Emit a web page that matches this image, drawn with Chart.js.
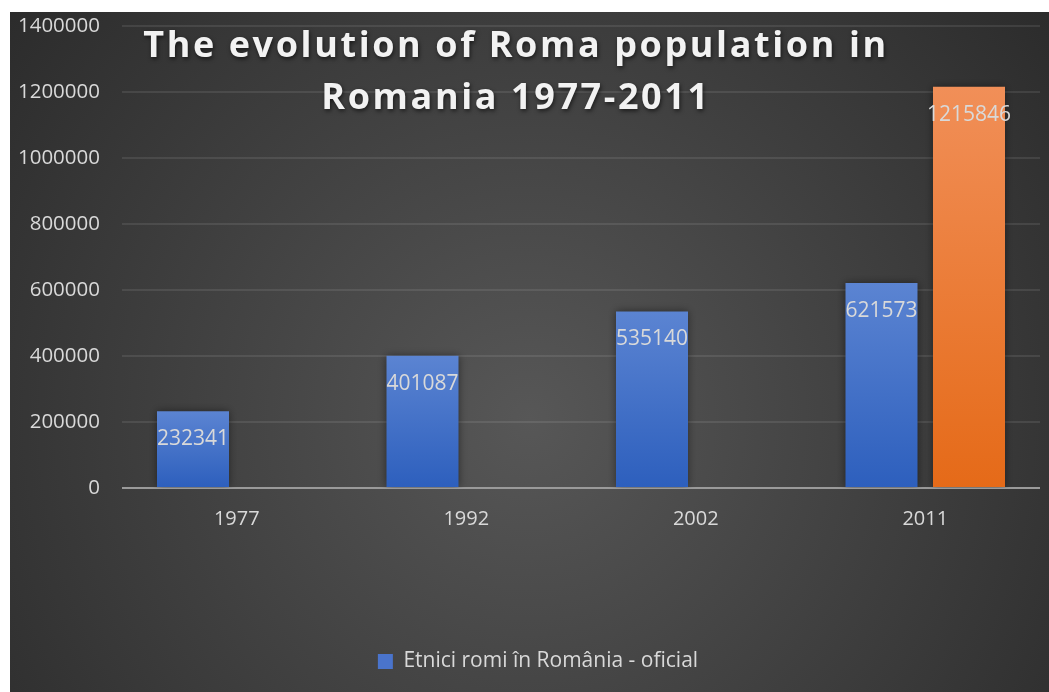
<!DOCTYPE html>
<html>
<head>
<meta charset="utf-8">
<script src="https://cdn.jsdelivr.net/npm/chart.js@4.4.1/dist/chart.umd.min.js"></script>
<style>
  html, body { margin: 0; padding: 0; background: #ffffff; }
  #wrap { position: absolute; left: 10px; top: 12px; width: 1039px; height: 680px; }
</style>
</head>
<body>
<div id="wrap"><canvas id="chart"></canvas></div>
<script>
// Census categories and values
const categories = ['1977', '1992', '2002', '2011'];
const officialValues = [232341, 401087, 535140, 621573];
const estimateValues = [null, null, null, 1215846];
const officialLabel = 'Etnici romi în România - oficial';
const titleLines = ['The evolution of Roma population in', 'Romania 1977-2011'];
const yMin = 0;
const yMax = 1400000;
const yStep = 200000;

const FONT = '"Open Sans", "Liberation Sans", sans-serif';
const TEXT_COLOR = '#d9d9d9';

// Vertical gradient spanning each bar from its top to the baseline
function barGradient(ctx, top, bottom) {
  const chart = ctx.chart;
  const yScale = chart.scales.y;
  const v = ctx.raw;
  if (!yScale || v == null || !chart.chartArea) return top;
  const y0 = yScale.getPixelForValue(v);
  const y1 = yScale.getPixelForValue(0);
  const g = chart.ctx.createLinearGradient(0, y0, 0, y1);
  g.addColorStop(0, top);
  g.addColorStop(1, bottom);
  return g;
}

// Dark radial backdrop
const backdrop = {
  id: 'backdrop',
  beforeDraw(chart) {
    const { ctx, width, height } = chart;
    ctx.save();
    const cx = width * 0.5, cy = height * 0.6;
    const g = ctx.createRadialGradient(cx, cy, 0, cx, cy, width * 0.72);
    g.addColorStop(0, '#575757');
    g.addColorStop(1, '#262626');
    ctx.fillStyle = g;
    ctx.fillRect(0, 0, width, height);
    ctx.restore();
  }
};

// Nudge the legend so it centres under the plot rather than the canvas
const legendNudge = {
  id: 'legendNudge',
  afterLayout(chart) {
    if (chart.legend) {
      chart.legend.left += 13;
      chart.legend.right += 13;
    }
  }
};

// Soft shadow behind the bars
const barShadow = {
  id: 'barShadow',
  beforeDatasetsDraw(chart) {
    const ctx = chart.ctx;
    ctx.save();
    ctx.shadowColor = 'rgba(0,0,0,0.45)';
    ctx.shadowBlur = 8;
  },
  afterDatasetsDraw(chart) {
    chart.ctx.restore();
  }
};

// Value labels inside the top of each bar, and the overlaid title
const overlayText = {
  id: 'overlayText',
  afterDraw(chart) {
    const ctx = chart.ctx;
    ctx.save();
    ctx.font = '21px ' + FONT;
    ctx.fillStyle = TEXT_COLOR;
    ctx.textAlign = 'center';
    ctx.textBaseline = 'middle';
    chart.data.datasets.forEach((ds, di) => {
      const meta = chart.getDatasetMeta(di);
      meta.data.forEach((bar, i) => {
        const v = ds.data[i];
        if (v == null) return;
        ctx.fillText(String(v), bar.x, bar.y + 28);
      });
    });
    ctx.restore();

    ctx.save();
    ctx.font = 'bold 36px ' + FONT;
    ctx.letterSpacing = '2.6px';
    ctx.fillStyle = '#f2f2f2';
    ctx.textAlign = 'center';
    ctx.textBaseline = 'alphabetic';
    ctx.shadowColor = 'rgba(0,0,0,0.6)';
    ctx.shadowBlur = 4;
    ctx.shadowOffsetX = 1;
    ctx.shadowOffsetY = 2;
    const cx = 506;
    ctx.fillText(titleLines[0], cx, 45);
    ctx.fillText(titleLines[1], cx, 97);
    ctx.restore();
  }
};

new Chart(document.getElementById('chart'), {
  type: 'bar',
  data: {
    labels: categories,
    datasets: [
      {
        label: officialLabel,
        data: officialValues,
        backgroundColor: (c) => barGradient(c, '#5b84d2', '#2d5fbd'),
        categoryPercentage: 0.7625,
        barPercentage: 0.823
      },
      {
        label: '',
        data: estimateValues,
        backgroundColor: (c) => barGradient(c, '#f18f58', '#e56a18'),
        categoryPercentage: 0.7625,
        barPercentage: 0.823
      }
    ]
  },
  options: {
    responsive: true,
    maintainAspectRatio: false,
    animation: false,
    layout: { padding: { top: 14, right: 9, left: 0, bottom: 10 } },
    plugins: {
      title: { display: false },
      tooltip: { enabled: false },
      legend: {
        position: 'bottom',
        labels: {
          color: TEXT_COLOR,
          font: { family: FONT, size: 21 },
          boxWidth: 15,
          boxHeight: 15,
          padding: 10,
          generateLabels: () => [{
            text: officialLabel,
            fillStyle: '#4a74cc',
            strokeStyle: 'rgba(0,0,0,0)',
            lineWidth: 0,
            fontColor: TEXT_COLOR,
            datasetIndex: 0
          }]
        }
      }
    },
    scales: {
      x: {
        grid: { display: false, drawTicks: false },
        border: { display: false },
        ticks: { color: TEXT_COLOR, font: { family: FONT, size: 20 }, padding: 19 },
        afterFit: (s) => { s.height = 153; }
      },
      y: {
        min: yMin,
        max: yMax,
        ticks: {
          stepSize: yStep,
          color: TEXT_COLOR,
          font: { family: FONT, size: 20.5 },
          padding: 22,
          callback: (v) => String(v)
        },
        grid: {
          drawTicks: false,
          lineWidth: 2,
          color: (c) => (c.tick && c.tick.value === 0) ? '#9a9a9a' : 'rgba(255,255,255,0.09)'
        },
        border: { display: false },
        afterFit: (s) => { s.width = 112; s.paddingTop = 0; s.paddingBottom = 0; }
      }
    }
  },
  plugins: [backdrop, legendNudge, barShadow, overlayText]
});
</script>
</body>
</html>
